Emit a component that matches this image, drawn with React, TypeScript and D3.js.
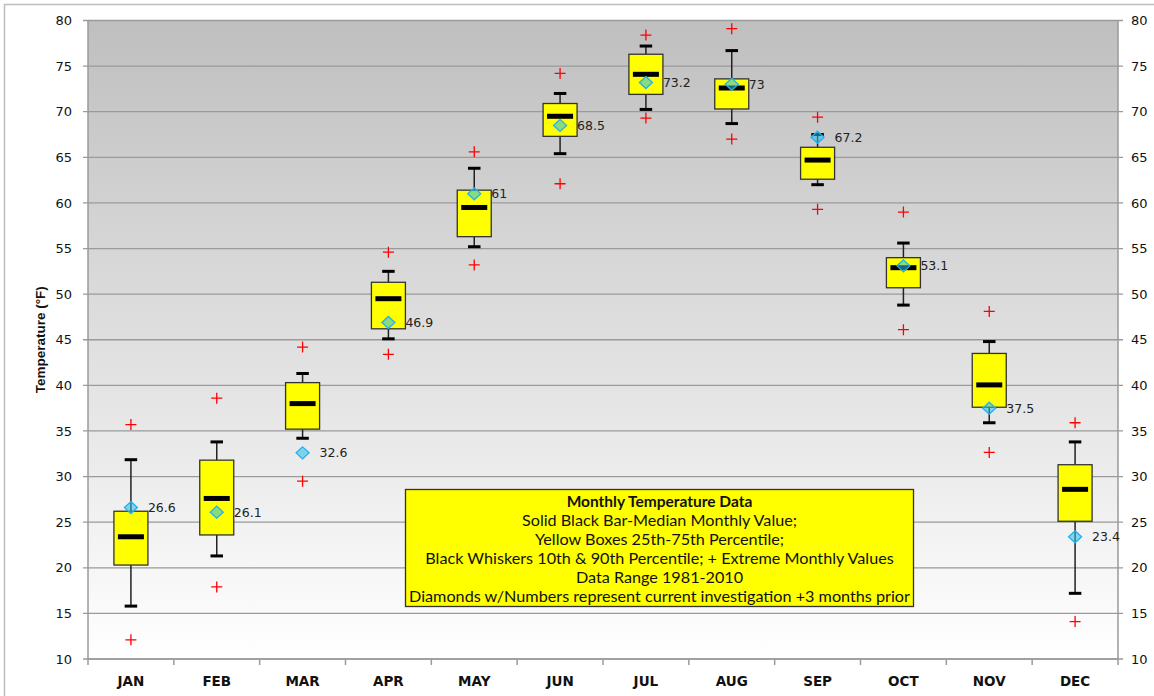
import React from "react";
import * as d3 from "d3";

const months = ["JAN", "FEB", "MAR", "APR", "MAY", "JUN", "JUL", "AUG", "SEP", "OCT", "NOV", "DEC"];
const extremeHigh = [35.7, 38.6, 44.2, 54.6, 65.6, 74.2, 78.4, 79.1, 69.4, 59.0, 48.1, 35.9];
const p90 = [31.85, 33.8, 41.3, 52.5, 63.8, 72.0, 77.2, 76.7, 67.5, 55.6, 44.8, 33.8];
const p75 = [26.2, 31.8, 40.3, 51.3, 61.4, 70.9, 76.3, 73.6, 66.1, 54.0, 43.5, 31.3];
const median = [23.4, 27.6, 38.0, 49.5, 59.5, 69.5, 74.1, 72.6, 64.7, 52.9, 40.05, 28.6];
const p25 = [20.3, 23.6, 35.2, 46.2, 56.3, 67.3, 71.9, 70.3, 62.6, 50.7, 37.6, 25.1];
const p10 = [15.8, 21.3, 34.2, 45.1, 55.2, 65.4, 70.25, 68.7, 62.0, 48.8, 35.9, 17.2];
const extremeLow = [12.1, 17.9, 29.5, 43.4, 53.2, 62.1, 69.3, 67.0, 59.3, 46.1, 32.65, 14.1];
const current = [26.6, 26.1, 32.6, 46.9, 61, 68.5, 73.2, 73, 67.2, 53.1, 37.5, 23.4];
const yTicks = [10, 15, 20, 25, 30, 35, 40, 45, 50, 55, 60, 65, 70, 75, 80];
const legendLines = [
  "Monthly Temperature Data",
  "Solid Black Bar-Median Monthly Value;",
  "Yellow Boxes 25th-75th Percentile;",
  "Black Whiskers 10th & 90th Percentile; + Extreme Monthly Values",
  "Data Range 1981-2010",
  "Diamonds w/Numbers represent current investigation +3 months prior",
];

const W = 1154;
const H = 696;
const L = 88;
const R = 1118;
const T = 20.5;
const B = 659;

export default function App() {
  const x = d3.scaleBand<string>().domain(months).range([L, R]).padding(0);
  const y = d3.scaleLinear().domain([10, 80]).range([B, T]);
  const bw = x.bandwidth();
  const boxW = 34;
  const capW = 12.5;
  const medW = 26;
  const num = "'DejaVu Sans', Verdana, sans-serif";

  return (
    <svg width={W} height={H} style={{ position: "absolute", left: 0, top: 0 }} xmlns="http://www.w3.org/2000/svg">
      <defs>
        <linearGradient id="bg" x1="0" y1="0" x2="0" y2="1">
          <stop offset="0" stopColor="#bfbfbf" />
          <stop offset="1" stopColor="#ffffff" />
        </linearGradient>
      </defs>
      <rect x={0} y={0} width={W} height={H} fill="#ffffff" />
      <rect x={4.5} y={4.5} width={W + 10} height={H + 10} fill="none" stroke="#bdbdbd" strokeWidth={1.5} />
      <rect x={L} y={T} width={R - L} height={B - T} fill="url(#bg)" />
      {yTicks.map((t) => (
        <g key={t}>
          <line x1={L - 5} x2={R + 5} y1={y(t)} y2={y(t)} stroke="#9a9a9a" strokeWidth={1.3} />
          <text x={72} y={y(t)} dy="0.36em" textAnchor="end" fontFamily={num} fontSize={13} fill="#111">{t}</text>
          <text x={1131} y={y(t)} dy="0.36em" textAnchor="start" fontFamily={num} fontSize={13} fill="#111">{t}</text>
        </g>
      ))}
      <line x1={L} x2={L} y1={T} y2={B} stroke="#9a9a9a" strokeWidth={1.5} />
      <line x1={R} x2={R} y1={T} y2={B} stroke="#9a9a9a" strokeWidth={1.5} />
      <line x1={L} x2={R} y1={B} y2={B} stroke="#9a9a9a" strokeWidth={1.5} />
      {months.map((m) => (
        <line key={"tk" + m} x1={(x(m) as number)} x2={(x(m) as number)} y1={B} y2={B + 6} stroke="#9a9a9a" strokeWidth={1.5} />
      ))}
      <line x1={R} x2={R} y1={B} y2={B + 6} stroke="#9a9a9a" strokeWidth={1.5} />
      {months.map((m) => (
        <text key={"xl" + m} x={(x(m) as number) + bw / 2} y={681} dy="0.36em" textAnchor="middle" fontFamily="'DejaVu Sans', Verdana, sans-serif" fontWeight="bold" fontSize={13.5} fill="#111">{m}</text>
      ))}
      <text transform={`translate(40,${(T + B) / 2}) rotate(-90)`} textAnchor="middle" dy="0.36em" fontFamily="'Liberation Sans', Arial, sans-serif" fontWeight="bold" fontSize={13.5} fill="#111">Temperature (°F)</text>

      {months.map((m, i) => {
        const cx = (x(m) as number) + bw / 2;
        return (
          <g key={"box" + m}>
            <line x1={cx} x2={cx} y1={y(p90[i])} y2={y(p10[i])} stroke="#222" strokeWidth={1.5} />
            <rect x={cx - capW / 2} y={y(p90[i]) - 1.5} width={capW} height={3} fill="#000" />
            <rect x={cx - capW / 2} y={y(p10[i]) - 1.5} width={capW} height={3} fill="#000" />
            <rect x={cx - boxW / 2} y={y(p75[i])} width={boxW} height={y(p25[i]) - y(p75[i])} fill="#ffff00" stroke="#333" strokeWidth={1.3} />
            <rect x={cx - medW / 2} y={y(median[i]) - 2.5} width={medW} height={5} fill="#000" />
            {[extremeHigh[i], extremeLow[i]].map((v, k) => (
              <path key={k} d={`M${cx - 5.5},${y(v)}H${cx + 5.5}M${cx},${y(v) - 5.5}V${y(v) + 5.5}`} stroke="#ff0000" strokeWidth={1.3} fill="none" />
            ))}
          </g>
        );
      })}
      {months.map((m, i) => {
        const cx = (x(m) as number) + bw / 2;
        const cy = y(current[i]);
        return (
          <g key={"dm" + m}>
            <path d={`M${cx},${cy - 6}L${cx + 6.5},${cy}L${cx},${cy + 6}L${cx - 6.5},${cy}Z`} fill="rgba(40,190,230,0.55)" stroke="#22b0ee" strokeWidth={1.3} />
            <text x={cx + 17} y={cy} dy="0.36em" fontFamily={num} fontSize={12.5} fill="#222">{String(current[i])}</text>
          </g>
        );
      })}

      <rect x={405.5} y={489.5} width={508} height={117} fill="#ffff00" stroke="#333" strokeWidth={1.3} />
      {legendLines.map((l, i) => (
        <text key={i} x={659.5} y={501.5 + i * 19} dy="0.36em" textAnchor="middle" fontFamily="Lato, 'Liberation Sans', sans-serif" fontSize={i === 0 ? 15.5 : 16.2} fontWeight={i === 0 ? "bold" : "normal"} fill="#111">{l}</text>
      ))}
    </svg>
  );
}
